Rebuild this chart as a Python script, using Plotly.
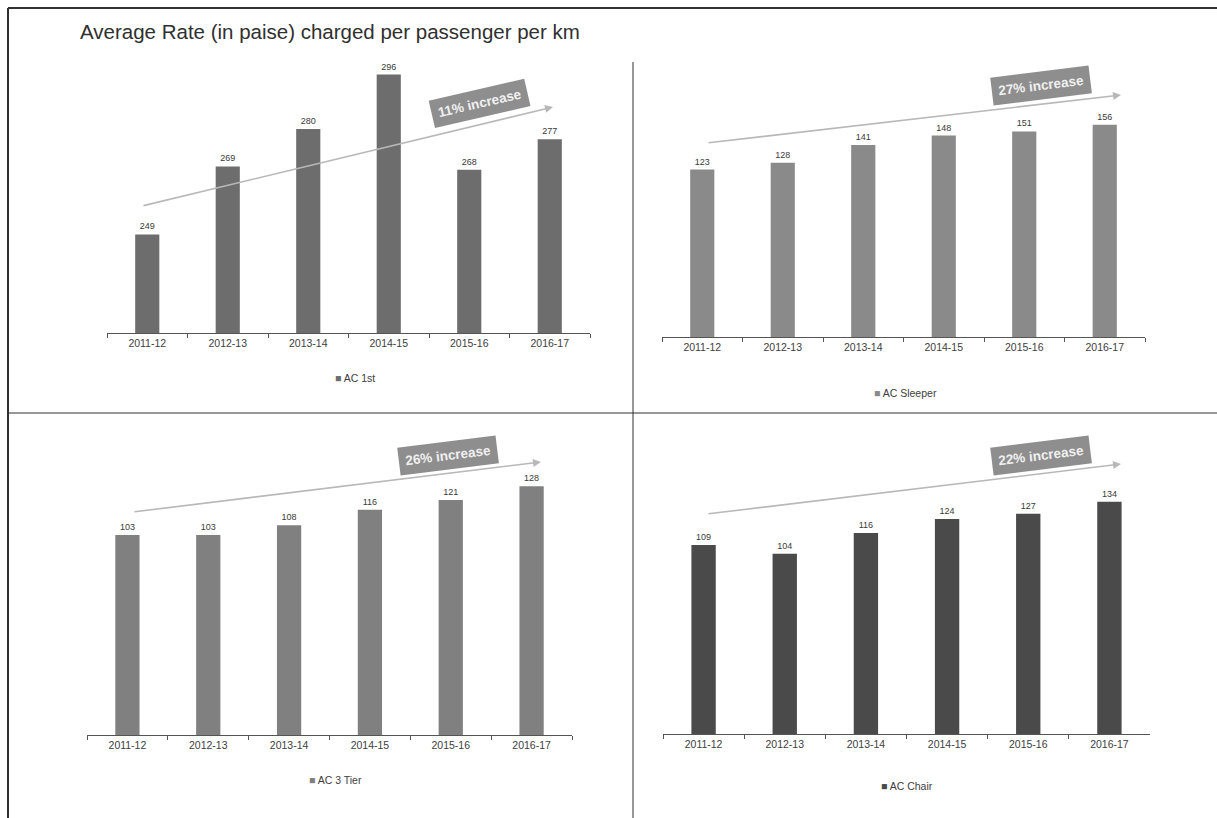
import plotly.graph_objects as go

# ---- data -------------------------------------------------------------
years = ["2011-12", "2012-13", "2013-14", "2014-15", "2015-16", "2016-17"]

ac_first = [249, 269, 280, 296, 268, 277]
ac_sleeper = [123, 128, 141, 148, 151, 156]
ac_3tier = [103, 103, 108, 116, 121, 128]
ac_chair = [109, 104, 116, 124, 127, 134]

series_names = ["AC 1st", "AC Sleeper", "AC 3 Tier", "AC Chair"]
increase_labels = ["11% increase", "27% increase", "26% increase", "22% increase"]

title_text = "Average Rate (in paise) charged per passenger per km"

# ---- page geometry (pixels) ---------------------------------------------
W, H = 1217, 818
FONT = "Liberation Sans, Arial, sans-serif"


def px(x):
    return x / W


def py(y):
    return 1 - y / H


# per-panel layout: x span, baseline, top of plot, y range, bar colour,
# trend arrow (tail, head), tag centre and angle, legend centre
panels = [
    dict(x0=107, x1=590, base=333, top=61, yr=[220, 300], color="#6d6d6d",
         tail=(142, 206), head=(553, 107), tag=(479, 103), ang=-13, leg=(355, 378)),
    dict(x0=662, x1=1145, base=337, top=92, yr=[0, 180], color="#8a8a8a",
         tail=(707, 143), head=(1121, 95), tag=(1041, 85), ang=-7, leg=(905, 393)),
    dict(x0=87, x1=572, base=735, top=463, yr=[0, 140], color="#808080",
         tail=(133, 512), head=(541, 462), tag=(448, 455), ang=-7, leg=(335, 780)),
    dict(x0=663, x1=1150, base=734, top=474, yr=[0, 150], color="#4a4a4a",
         tail=(707, 514), head=(1121, 464), tag=(1041, 455), ang=-7, leg=(907, 786)),
]

values = [ac_first, ac_sleeper, ac_3tier, ac_chair]

fig = go.Figure()
annotations = []
shapes = []
layout_axes = {}

for i, (p, vals, name, inc) in enumerate(zip(panels, values, series_names, increase_labels)):
    n = "" if i == 0 else str(i + 1)
    fig.add_trace(go.Bar(
        x=years, y=vals, name=name,
        xaxis="x" + n, yaxis="y" + n,
        marker=dict(color=p["color"], line=dict(width=0)),
        width=0.3,
        text=vals, texttemplate="%{y}", textposition="outside",
        textfont=dict(size=9, color="#3a3a3a", family=FONT),
        cliponaxis=False, showlegend=False,
    ))
    layout_axes["xaxis" + n] = dict(
        domain=[px(p["x0"]), px(p["x1"])], anchor="y" + n,
        type="category", range=[-0.5, 5.5],
        showline=True, linecolor="#555555", linewidth=1,
        ticks="outside", ticklen=4, tickcolor="#555555", tickson="boundaries",
        showgrid=False, zeroline=False,
        tickfont=dict(size=10.5, color="#404040", family=FONT),
        fixedrange=True,
    )
    layout_axes["yaxis" + n] = dict(
        domain=[py(p["base"]), py(p["top"])], anchor="x" + n,
        range=p["yr"], visible=False, showgrid=False, fixedrange=True,
    )

    # trend arrow
    hx, hy = p["head"]
    tx, ty = p["tail"]
    annotations.append(dict(
        x=px(hx), y=py(hy), xref="paper", yref="paper",
        ax=tx - hx, ay=ty - hy, axref="pixel", ayref="pixel",
        text="", showarrow=True, arrowhead=2, arrowsize=1, arrowwidth=1.6,
        arrowcolor="#b8b8b8",
    ))
    # increase tag
    cx, cy = p["tag"]
    annotations.append(dict(
        x=px(cx), y=py(cy), xref="paper", yref="paper",
        text="<b>" + inc + "</b>", showarrow=False, textangle=p["ang"],
        font=dict(size=13.5, color="#f0f0f0", family=FONT),
        bgcolor="#8e8e8e", borderpad=6,
        xanchor="center", yanchor="middle",
    ))
    # series key below the axis
    lx, ly = p["leg"]
    annotations.append(dict(
        x=px(lx), y=py(ly), xref="paper", yref="paper",
        text="<span style='color:%s'>■</span> %s" % (p["color"], name),
        showarrow=False, font=dict(size=10.5, color="#404040", family=FONT),
        xanchor="center", yanchor="middle",
    ))

# heading
annotations.append(dict(
    x=px(78), y=py(32), xref="paper", yref="paper",
    text=title_text, showarrow=False,
    font=dict(size=20.5, color="#303030", family=FONT),
    xanchor="left", yanchor="middle",
))

# frame and quadrant dividers
line = dict(color="#303030", width=1)
shapes += [
    dict(type="line", xref="paper", yref="paper", x0=px(8), x1=1, y0=py(8), y1=py(8),
         line=dict(color="#303030", width=2)),
    dict(type="line", xref="paper", yref="paper", x0=px(8), x1=px(8), y0=py(8), y1=0,
         line=dict(color="#303030", width=2)),
    dict(type="line", xref="paper", yref="paper", x0=px(8), x1=1, y0=py(413), y1=py(413),
         line=line),
    dict(type="line", xref="paper", yref="paper", x0=px(633), x1=px(633), y0=py(62), y1=0,
         line=line),
]

fig.update_layout(
    width=W, height=H,
    margin=dict(l=0, r=0, t=0, b=0),
    paper_bgcolor="white", plot_bgcolor="white",
    annotations=annotations, shapes=shapes,
    bargap=0.7,
    **layout_axes,
)

fig.write_html("out.html", config=dict(displayModeBar=False))
